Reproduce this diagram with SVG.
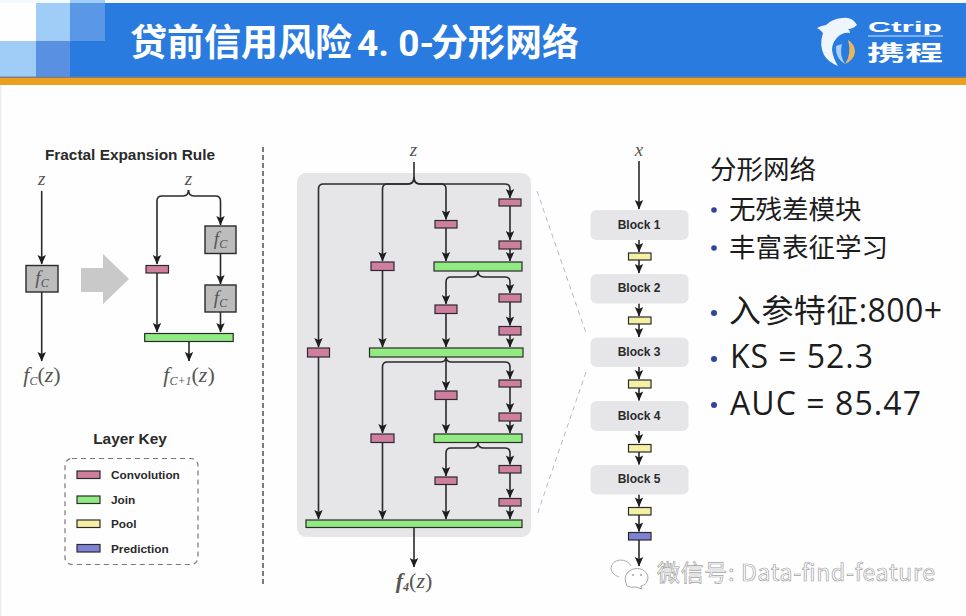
<svg xmlns="http://www.w3.org/2000/svg" width="966" height="616" viewBox="0 0 966 616">
<style>
.conv{fill:#cf7f9e;stroke:#2a2a2a;stroke-width:1.2}
.join{fill:#92ea82;stroke:#2a2a2a;stroke-width:1.2}
.pool{fill:#f5f0a6;stroke:#2a2a2a;stroke-width:1.2}
.pred{fill:#8080d4;stroke:#2a2a2a;stroke-width:1.2}
.fc{fill:#bcbcbc;stroke:#2a2a2a;stroke-width:1.4}
.blk{fill:#e6e6e8}
.c{fill:none;stroke:#2a2a2a;stroke-width:1.6;marker-end:url(#a)}
.m{font-family:"Liberation Serif",serif;font-style:italic;fill:#555;text-anchor:middle;font-size:19px}
.o{font-size:22px}
.s{font-size:12px}
.n{font-family:"Liberation Serif",serif;font-style:normal}
.h{font-family:"Liberation Sans",Arial,sans-serif;font-weight:bold;fill:#2a2a2a;text-anchor:middle;font-size:15.4px}
.k{font-family:"Liberation Sans",Arial,sans-serif;font-weight:bold;fill:#2a2a2a;font-size:11.8px}
.b{font-family:"Liberation Sans",Arial,sans-serif;font-weight:bold;fill:#2a2a2a;text-anchor:middle;font-size:12px}
.t{font-family:"Open Sans","Noto Sans CJK SC",sans-serif;fill:#1c1c1c}
.d{fill:#33429c}
</style>
<defs>
<marker id="a" markerUnits="userSpaceOnUse" markerWidth="11" markerHeight="10" refX="9.500" refY="5" orient="auto" viewBox="0 0 11 10"><path d="M0.500,0.800L2.500,5L0.500,9.200L10,5Z" fill="#1e1e1e"/></marker>
</defs>
<rect width="966" height="616" fill="#fefefe"/>
<rect x="0" y="85" width="1.500" height="531" fill="#ecedf2"/>
<g id="header">
<rect x="0" y="0" width="966" height="3" fill="#f4f9fe"/>
<rect x="70" y="3" width="896" height="74" fill="#2a7be0"/>
<rect x="36" y="3" width="34" height="38" fill="#a0cdf8"/>
<rect x="70" y="0" width="35" height="3" fill="#a0cdf8"/>
<rect x="70" y="3" width="35" height="38" fill="#5a97e6"/>
<rect x="0" y="41" width="36" height="36" fill="#a0cdf8"/>
<rect x="36" y="41" width="34" height="36" fill="#5a90e2"/>
<rect x="0" y="76.500" width="966" height="1.500" fill="#7d7f88"/>
<rect x="0" y="78" width="966" height="7" fill="#eba020"/>
<text x="130" y="56" font-family="'Noto Sans CJK SC',sans-serif" font-weight="bold" font-size="37" fill="#fff">贷前信用风险<tspan x="357" font-family="Roboto,sans-serif">4. 0-</tspan><tspan x="431">分形网络</tspan></text>
</g>
<g id="logo">
<path d="M857,25Q852,16 842,18Q832,19 826,25Q820,26 817,28Q821,30 823,33Q819,45 824,55Q828,62 838,66Q833,58 832,50Q832,41 840,35Q845,32 850,33Q850,30 848,29Q853,29 857,25Z" fill="#eef5fd"/>
<path d="M836,46Q835,58 845,64Q839,55 842,44Z" fill="#a8d0f4"/>
<path d="M848,40Q855,44 855,52Q854,60 845,64Q852,54 848,40Z" fill="#e8b860"/>
<text x="868" y="32" font-family="'Liberation Sans',sans-serif" font-weight="bold" font-size="15" fill="#fff" textLength="74" lengthAdjust="spacingAndGlyphs">Ctrip</text>
<rect x="868" y="35.500" width="75" height="1" fill="#cfe2fb"/>
<text x="867" y="60" font-family="'Noto Sans CJK SC',sans-serif" font-weight="bold" font-size="21" fill="#fff" textLength="76" lengthAdjust="spacingAndGlyphs">携程</text>
</g>
<g id="divider"><path d="M263,147V587" stroke="#222" stroke-width="1.2" stroke-dasharray="5 3" fill="none"/></g>
<g id="zoom-guides"><path d="M537,191L586,333M586,372L537,515" stroke="#bdb8c4" stroke-width="1" stroke-dasharray="5 4" fill="none"/></g>
<rect id="fractal-panel" x="297" y="173" width="234" height="364" rx="9" fill="#e6e6e8"/>
<g id="connectors">
<path class="c" d="M41.700,191V264"/>
<path class="c" d="M41.700,292V361"/>
<path class="c" d="M188.500,190Q188.500,196 183,196H162Q157,196 157,201V264"/>
<path class="c" d="M188.500,190Q188.500,196 194,196H215.500Q220.500,196 220.500,201V225"/>
<path class="c" d="M157,273V332"/>
<path class="c" d="M220.500,253.500V284"/>
<path class="c" d="M220.500,312V332"/>
<path class="c" d="M189,341.500V361"/>

<path class="c" d="M414,162V177Q414,184 408,184H323.500Q318.500,184 318.500,189V347"/>
<path class="c" d="M414,177Q414,184 408,184H387.500Q382.500,184 382.500,189V261"/>
<path class="c" d="M414,177Q414,184 420,184H441Q446,184 446,189V219.500"/>
<path class="c" d="M414,177Q414,184 420,184H505Q510,184 510,189V198"/>
<path class="c" d="M510,206V240"/>
<path class="c" d="M510,249V261"/>
<path class="c" d="M446,228V261"/>
<path class="c" d="M478,271Q478,277 472,277H451Q446,277 446,282V304"/>
<path class="c" d="M478,271Q478,277 484,277H505Q510,277 510,282V293"/>
<path class="c" d="M510,302V325.500"/>
<path class="c" d="M510,335V347"/>
<path class="c" d="M446,313.500V347"/>
<path class="c" d="M382.500,270.500V347"/>
<path class="c" d="M318.500,357V519"/>
<path class="c" d="M446,357Q446,362 440,362H387.500Q382.500,362 382.500,367V433"/>
<path class="c" d="M446,357V390"/>
<path class="c" d="M446,357Q446,362 452,362H505Q510,362 510,367V379"/>
<path class="c" d="M510,387V412"/>
<path class="c" d="M510,421V433"/>
<path class="c" d="M446,399.500V433"/>
<path class="c" d="M382.500,442.500V519"/>
<path class="c" d="M478,442.500Q478,448 472,448H451Q446,448 446,453V476"/>
<path class="c" d="M478,442.500Q478,448 484,448H505Q510,448 510,453V464.500"/>
<path class="c" d="M510,473V497.500"/>
<path class="c" d="M510,506V519"/>
<path class="c" d="M446,484.500V519"/>
<path class="c" d="M414,527.500V567"/>

<path class="c" d="M639,161V209"/>
<path class="c" d="M639,240V252"/>
<path class="c" d="M639,260V273"/>
<path class="c" d="M639,303.500V316"/>
<path class="c" d="M639,324V337"/>
<path class="c" d="M639,367V379"/>
<path class="c" d="M639,388V400.500"/>
<path class="c" d="M639,431V443"/>
<path class="c" d="M639,452V464.500"/>
<path class="c" d="M639,494.500V506.500"/>
<path class="c" d="M639,515V531.500"/>
<path class="c" d="M639,540V566"/>
</g>
<g id="rule-title"><text class="h" x="130" y="160">Fractal Expansion Rule</text></g>
<g id="rule-input-left"><text class="m" x="41.700" y="185">z</text></g>
<g id="rule-fc"><rect class="fc" x="26" y="265.500" width="32" height="26.500"/><text class="m" x="42" y="284">f<tspan class="s" dy="3">C</tspan></text></g>
<g id="rule-output-left"><text class="m o" x="42" y="382">f<tspan class="s" dy="3">C</tspan><tspan class="n" dy="-3">(</tspan>z<tspan class="n">)</tspan></text></g>
<g id="big-arrow"><path d="M81,268H103V254L129,279L103,304V292H81Z" fill="#c9c9c9"/></g>
<g id="rule-input-right"><text class="m" x="188.500" y="185">z</text></g>
<g id="rule-conv"><rect class="conv" x="146" y="265.500" width="22.500" height="7.500"/></g>
<g id="rule-fc-1"><rect class="fc" x="205" y="226" width="31" height="27.500"/><text class="m" x="220.500" y="245">f<tspan class="s" dy="3">C</tspan></text></g>
<g id="rule-fc-2"><rect class="fc" x="205" y="285" width="31" height="27"/><text class="m" x="220.500" y="304">f<tspan class="s" dy="3">C</tspan></text></g>
<g id="rule-join"><rect class="join" x="144.700" y="333.500" width="88.500" height="8"/></g>
<g id="rule-output-right"><text class="m o" x="189" y="382">f<tspan class="s" dy="3">C+1</tspan><tspan class="n" dy="-3">(</tspan>z<tspan class="n">)</tspan></text></g>
<g id="layer-key">
<text class="h" x="130" y="444">Layer Key</text>
<rect x="65" y="458.500" width="133" height="106" rx="7" fill="none" stroke="#777" stroke-width="1.2" stroke-dasharray="5 4"/>
<rect class="conv" x="77" y="471" width="23" height="7.500"/><text class="k" x="111" y="479">Convolution</text>
<rect class="join" x="77" y="496" width="23" height="7.500"/><text class="k" x="111" y="504">Join</text>
<rect class="pool" x="77" y="520" width="23" height="7.500"/><text class="k" x="111" y="528">Pool</text>
<rect class="pred" x="77" y="544.500" width="23" height="7.500"/><text class="k" x="111" y="553">Prediction</text>
</g>
<g id="z-input"><text class="m" x="413.500" y="156">z</text></g>
<g id="c4-1"><rect class="conv" x="499" y="199" width="22" height="7"/></g>
<g id="c4-2"><rect class="conv" x="499" y="241" width="22" height="8"/></g>
<g id="c3-1"><rect class="conv" x="435" y="220.500" width="22" height="7.500"/></g>
<g id="c2-1"><rect class="conv" x="371" y="262" width="23" height="8.500"/></g>
<g id="j1"><rect class="join" x="434" y="262" width="88" height="9"/></g>
<g id="c4-3"><rect class="conv" x="499" y="294" width="22" height="8"/></g>
<g id="c4-4"><rect class="conv" x="499" y="326.500" width="22" height="8.500"/></g>
<g id="c3-2"><rect class="conv" x="435" y="305" width="22" height="8.500"/></g>
<g id="c1-1"><rect class="conv" x="307.500" y="348" width="22" height="9"/></g>
<g id="j2"><rect class="join" x="369.500" y="348" width="153.500" height="9"/></g>
<g id="c4-5"><rect class="conv" x="499" y="380" width="22" height="7"/></g>
<g id="c4-6"><rect class="conv" x="499" y="413" width="22" height="8"/></g>
<g id="c3-3"><rect class="conv" x="435" y="391" width="22" height="8.500"/></g>
<g id="c2-2"><rect class="conv" x="371" y="434" width="23" height="8.500"/></g>
<g id="j3"><rect class="join" x="434" y="434" width="88" height="8.500"/></g>
<g id="c4-7"><rect class="conv" x="499" y="465.500" width="22" height="7.500"/></g>
<g id="c4-8"><rect class="conv" x="499" y="498.500" width="22" height="7.500"/></g>
<g id="c3-4"><rect class="conv" x="435" y="477" width="22" height="7.500"/></g>
<g id="j4"><rect class="join" x="306" y="520" width="216" height="7.500"/></g>
<g id="f4-output"><text class="m o" x="414" y="588" style="font-weight:bold">f<tspan class="s" dy="3">4</tspan><tspan class="n" dy="-3" font-weight="normal">(</tspan><tspan font-weight="normal">z</tspan><tspan class="n" font-weight="normal">)</tspan></text></g>
<g id="x-input"><text class="m" x="639" y="156">x</text></g>
<g id="block-1"><rect class="blk" x="590.500" y="210" width="98" height="30" rx="6"/><text class="b" x="639" y="229">Block 1</text></g>
<g id="pool-1"><rect class="pool" x="628.500" y="253" width="22.500" height="7"/></g>
<g id="block-2"><rect class="blk" x="590.500" y="274" width="98" height="29.500" rx="6"/><text class="b" x="639" y="292">Block 2</text></g>
<g id="pool-2"><rect class="pool" x="628.500" y="317" width="22.500" height="7"/></g>
<g id="block-3"><rect class="blk" x="590.500" y="337.500" width="98" height="29.500" rx="6"/><text class="b" x="639" y="356">Block 3</text></g>
<g id="pool-3"><rect class="pool" x="628.500" y="380" width="22.500" height="8"/></g>
<g id="block-4"><rect class="blk" x="590.500" y="401" width="98" height="30" rx="6"/><text class="b" x="639" y="420">Block 4</text></g>
<g id="pool-4"><rect class="pool" x="628.500" y="444.500" width="22.500" height="7.500"/></g>
<g id="block-5"><rect class="blk" x="590.500" y="465" width="98" height="29.500" rx="6"/><text class="b" x="639" y="483">Block 5</text></g>
<g id="pool-5"><rect class="pool" x="628.500" y="507.500" width="22.500" height="7.500"/></g>
<g id="prediction"><rect class="pred" x="628.500" y="532.500" width="22.500" height="7.500"/></g>
<g id="notes">
<text class="t" x="710" y="179" font-size="26.500">分形网络</text>
<circle class="d" cx="714" cy="210" r="2.800"/><text class="t" x="729" y="219" font-size="26.500">无残差模块</text>
<circle class="d" cx="714" cy="248" r="2.800"/><text class="t" x="729" y="257" font-size="26.500">丰富表征学习</text>
<circle class="d" cx="714" cy="313" r="3"/><text class="t" x="729" y="322" font-size="32" textLength="213">入参特征:800+</text>
<circle class="d" cx="714" cy="359" r="3"/><text class="t" x="730" y="368" font-size="32" textLength="143">KS = 52.3</text>
<circle class="d" cx="714" cy="405" r="3"/><text class="t" x="730" y="415" font-size="32" textLength="191">AUC = 85.47</text>
</g>
<g id="watermark">
<path d="M619,577Q611,574 611,568Q612,561 620,560Q628,560 631,566" fill="none" stroke="#b0b0b0" stroke-width="1"/>
<path d="M627,586Q623,578 628,572Q634,567 641,569Q648,572 648,578Q647,585 641,586L642,589L636,587Q631,588 627,586Z" fill="#fff" stroke="#a8a8a8" stroke-width="1"/>
<circle cx="633" cy="575" r="0.900" fill="#999"/><circle cx="641" cy="575" r="0.900" fill="#999"/>
<text x="657" y="581" font-family="'Noto Sans CJK SC',sans-serif" font-size="23" fill="#fff" stroke="#a4a4a4" stroke-width="0.700" textLength="278">微信号: Data-find-feature</text>
</g>
</svg>
